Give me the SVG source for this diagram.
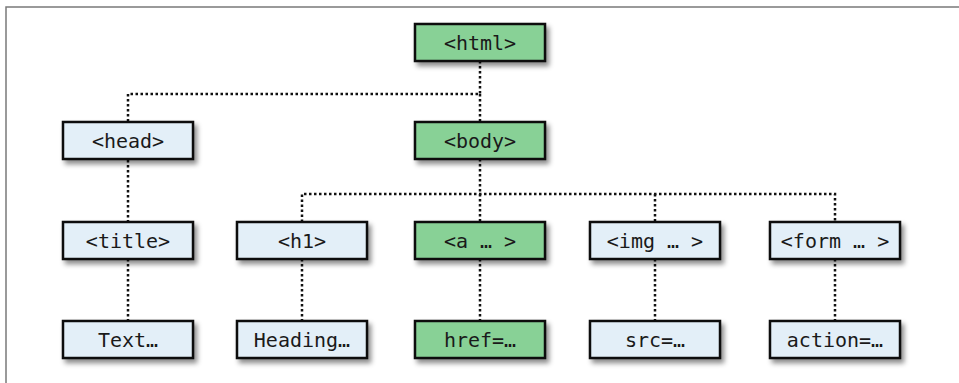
<svg xmlns="http://www.w3.org/2000/svg" width="959" height="383" viewBox="0 0 959 383">
<defs>
<filter id="sh" x="-10%" y="-20%" width="130%" height="160%">
<feDropShadow dx="3" dy="4" stdDeviation="2.5" flood-color="#000" flood-opacity="0.45"/>
</filter>
</defs>
<style>
.box{stroke:#111;stroke-width:2.5;filter:url(#sh)}
.g{fill:#88d196}
.b{fill:#e3eff8}
.t{font-family:"DejaVu Sans Mono","Liberation Mono",monospace;font-size:20px;fill:#1a1a1a;text-anchor:middle}
.c{fill:none;stroke:#111;stroke-width:2.5;stroke-dasharray:2.5 2.5}
</style>
<rect width="959" height="383" fill="#fff"/>
<path d="M6,383 V7 H959" fill="none" stroke="#7a7a7a" stroke-width="1.5"/>
<g id="connectors">
<path class="c" d="M480,61 V94 H128 V122"/>
<path class="c" d="M480,94 V122"/>
<path class="c" d="M128,160 V222"/>
<path class="c" d="M480,159 V194"/>
<path class="c" d="M302,222 V194 H835 V222"/>
<path class="c" d="M480,194 V222"/>
<path class="c" d="M655,194 V222"/>
<path class="c" d="M128,259 V321"/>
<path class="c" d="M302,259 V321"/>
<path class="c" d="M480,259 V321"/>
<path class="c" d="M655,259 V321"/>
<path class="c" d="M835,259 V321"/>
</g>
<g id="html"><rect class="box g" x="415" y="24" width="130" height="37"/><text class="t" x="480" y="49.5">&lt;html&gt;</text></g>
<g id="head"><rect class="box b" x="63" y="122" width="130" height="37"/><text class="t" x="128" y="147.5">&lt;head&gt;</text></g>
<g id="body"><rect class="box g" x="415" y="122" width="130" height="37"/><text class="t" x="480" y="147.5">&lt;body&gt;</text></g>
<g id="title"><rect class="box b" x="63" y="222" width="130" height="37"/><text class="t" x="128" y="247.5">&lt;title&gt;</text></g>
<g id="h1"><rect class="box b" x="237" y="222" width="130" height="37"/><text class="t" x="302" y="247.5">&lt;h1&gt;</text></g>
<g id="a"><rect class="box g" x="415" y="222" width="130" height="37"/><text class="t" x="480" y="247.5">&lt;a … &gt;</text></g>
<g id="img"><rect class="box b" x="590" y="222" width="130" height="37"/><text class="t" x="655" y="247.5">&lt;img … &gt;</text></g>
<g id="form"><rect class="box b" x="770" y="222" width="130" height="37"/><text class="t" x="835" y="247.5">&lt;form … &gt;</text></g>
<g id="text"><rect class="box b" x="63" y="321" width="130" height="37"/><text class="t" x="128" y="346.5">Text…</text></g>
<g id="heading"><rect class="box b" x="237" y="321" width="130" height="37"/><text class="t" x="302" y="346.5">Heading…</text></g>
<g id="href"><rect class="box g" x="415" y="321" width="130" height="37"/><text class="t" x="480" y="346.5">href=…</text></g>
<g id="src"><rect class="box b" x="590" y="321" width="130" height="37"/><text class="t" x="655" y="346.5">src=…</text></g>
<g id="action"><rect class="box b" x="770" y="321" width="130" height="37"/><text class="t" x="835" y="346.5">action=…</text></g>
</svg>
